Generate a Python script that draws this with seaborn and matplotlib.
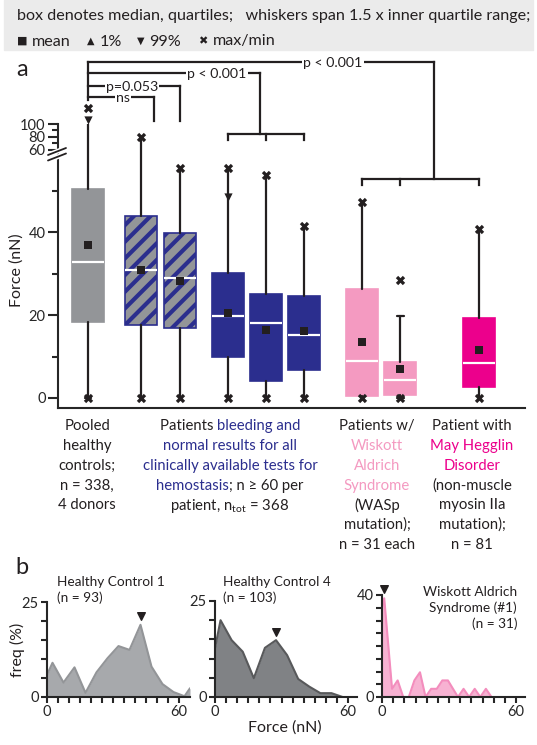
import numpy as np
import matplotlib
matplotlib.use('Agg')
import matplotlib.pyplot as plt
import matplotlib.transforms as mtransforms
from matplotlib.lines import Line2D
from matplotlib.patches import Rectangle
import seaborn as sns

# ---------------- data: panel a (force, nN) ----------------
box_median = [32.8, 30.8, 28.9, 19.9, 18.0, 15.1, 9.0, 4.3, 8.5]
box_q1 = [18.3, 17.7, 17.0, 10.0, 4.0, 6.7, 0.5, 0.7, 2.7]
box_q3 = [50.5, 43.9, 39.8, 30.1, 25.2, 24.6, 26.2, 8.7, 19.4]
box_mean = [36.9, 31.0, 28.2, 20.6, 16.5, 16.1, 13.6, 7.0, 11.6]
whisker_low = [0, 0, 0, 0, 0, 0, 0, 0, 0]
whisker_high = [106, 80, 55.5, 55.6, 53.9, 41.5, 47.3, 19.7, 40.8]
force_max = [125, 80, 55.5, 55.6, 53.9, 41.5, 47.3, 28.4, 40.8]
force_min = [0, 0, 0, 0, 0, 0, 0, 0, 0]
pct99 = [106, np.nan, np.nan, 48.5, np.nan, np.nan, np.nan, np.nan, np.nan]

# ---------------- data: panel b histograms ----------------
hc1_force = [0, 2.5, 7.5, 12.5, 17.5, 22.5, 27.5, 32.5, 37.5, 42.5, 47.5, 52.5, 57.5, 62.5, 65]
hc1_freq = [5.8, 9.0, 3.8, 7.8, 1.1, 6.5, 10.2, 13.4, 12.4, 19.0, 8.0, 3.4, 1.3, 0.2, 2.3]
hc4_force = [0, 2.5, 7.5, 12.5, 17.5, 22.5, 27.5, 32.5, 37.5, 42.5, 47.5, 52.5, 57.5]
hc4_freq = [12.7, 20.0, 14.8, 11.8, 4.9, 12.8, 14.8, 10.9, 4.7, 2.7, 1.0, 1.0, 0.0]
was_force = [0, 1, 4.5, 7, 9.5, 12, 14.5, 17, 19.5, 22, 24.5, 27, 29.5, 34, 36.5, 39, 41.5, 44, 46.5, 49]
was_freq = [35, 38.7, 3.2, 6.5, 0, 0, 6.5, 9.7, 0, 3.2, 3.2, 6.5, 6.5, 0, 3.2, 0, 3.2, 0, 3.2, 0]
marked_force = [42.5, 27.5, 1]   # arrowhead positions in the three histograms

# ---------------- style ----------------
GRAY = '#939598'
BLUE = '#2b2e8e'
PINK = '#f49ac1'
MAGENTA = '#ec008c'
INK = '#231f20'

box_face = [GRAY, GRAY, GRAY, BLUE, BLUE, BLUE, PINK, PINK, MAGENTA]
box_edge = [GRAY, BLUE, BLUE, BLUE, BLUE, BLUE, PINK, PINK, MAGENTA]
box_hatch = [None, '//', '//', None, None, None, None, None, None]
positions = [0.94, 2.6, 3.8, 5.3, 6.5, 7.7, 9.5, 10.7, 13.15]   # in box-width units

sns.set_theme(style='ticks')
plt.rcParams['font.family'] = ['Lato', 'DejaVu Sans']
plt.rcParams['mathtext.fontset'] = 'custom'
plt.rcParams['mathtext.rm'] = 'Lato'
plt.rcParams['hatch.linewidth'] = 3.0
plt.rcParams['axes.linewidth'] = 1.5
plt.rcParams['text.color'] = INK

W, H = 537, 745
fig = plt.figure(figsize=(W / 100, H / 100), dpi=100)


def px_axes(left, top, right, bottom):
    return fig.add_axes([left / W, 1 - bottom / H, (right - left) / W, (bottom - top) / H])


def fy(py):
    return 1 - py / H


# header band
fig.add_artist(Rectangle((4 / W, fy(50)), 529 / W, 50 / H, transform=fig.transFigure,
                         color='#ebebeb', zorder=0))
fig.text(17 / W, fy(16), 'box denotes median, quartiles;   whiskers span 1.5 x inner quartile range;',
         fontsize=11.6, va='center')
legend_bits = [(17, '\u25a0', 8), (32, 'mean', 11.6), (87, '\u25b2', 7), (100, '1%', 11.6),
               (137, '\u25bc', 7), (149, '99%', 11.6), (198, '\u2716', 8), (213, 'max/min', 11.6)]
for lx, s, fs in legend_bits:
    fig.text(lx / W, fy(40), s, fontsize=fs, va='center_baseline', ha='left',
             family=['DejaVu Sans'] if fs < 10 else ['Lato'])

# ---------------- panel a ----------------
BREAK, SQUEEZE = 60, 0.154


def fwd(v):
    v = np.asarray(v, float)
    return np.where(v <= BREAK, v, BREAK + (v - BREAK) * SQUEEZE)


def inv(u):
    u = np.asarray(u, float)
    return np.where(u <= BREAK, u, BREAK + (u - BREAK) / SQUEEZE)


ax = px_axes(58, 124, 525, 408)
ax.set_yscale('function', functions=(fwd, inv))

stats = []
for i in range(len(box_median)):
    stats.append(dict(med=box_median[i], q1=box_q1[i], q3=box_q3[i],
                      whislo=whisker_low[i], whishi=whisker_high[i], fliers=[]))
capw = [0.2 if wh < mx else 0.0 for wh, mx in zip(whisker_high, force_max)]
bp = ax.bxp(stats, positions=positions, widths=1.0, patch_artist=True, showfliers=False,
            capwidths=capw, manage_ticks=False,
            whiskerprops=dict(color=INK, lw=1.6),
            capprops=dict(color=INK, lw=1.6),
            medianprops=dict(color='white', lw=1.6, solid_capstyle='butt'),
            boxprops=dict(lw=1.2))
for patch, fc, ec, ht in zip(bp['boxes'], box_face, box_edge, box_hatch):
    patch.set_facecolor(fc)
    patch.set_edgecolor(ec)
    if ht:
        patch.set_hatch(ht)
for m in bp['medians']:
    m.set_zorder(4)

sns.scatterplot(x=positions, y=box_mean, marker='s', color=INK, s=30, linewidth=0, ax=ax, zorder=6)
sns.scatterplot(x=positions, y=force_max, marker='X', color=INK, s=45, linewidth=0, ax=ax,
                zorder=6, clip_on=False)
sns.scatterplot(x=positions, y=force_min, marker='X', color=INK, s=45, linewidth=0, ax=ax,
                zorder=6, clip_on=False)
sns.scatterplot(x=positions, y=pct99, marker='v', color=INK, s=35, linewidth=0, ax=ax,
                zorder=6, clip_on=False)

ax.set_xlim(0, 14.59)
ax.set_ylim(-2.43, 100)
ax.set_yticks([0, 20, 40, 60, 80, 100])
ax.set_yticks([10, 30, 50, 70, 90], minor=True)
ax.tick_params(axis='y', which='major', length=7, width=1.5, labelsize=10.5, pad=2)
ax.tick_params(axis='y', which='minor', length=4.5, width=1.5)
ax.set_xticks([])
sns.despine(ax=ax)
ax.set_ylabel('')
fig.text(17 / W, fy(270), 'Force (nN)', fontsize=11.5, rotation=90, ha='center', va='center')

# axis break marks
for dy in (0, 5.5):
    fig.add_artist(Line2D([48 / W, 66 / W], [fy(155 + dy), fy(148 + dy)],
                          transform=fig.transFigure, color='white', lw=3.5))
for dy in (0, 5.5):
    fig.add_artist(Line2D([48 / W, 66 / W], [fy(155 + dy), fy(148 + dy)],
                          transform=fig.transFigure, color=INK, lw=1.3))

fig.text(22 / W, fy(70), 'a', fontsize=17, ha='center', va='center')

# significance brackets: x in data, y in figure pixels
bt = mtransforms.blended_transform_factory(ax.transData, fig.transFigure)
slot = 467 / 14.59


def seg(x0, y0, x1, y1):
    ax.add_line(Line2D([x0, x1], [fy(y0), fy(y1)], transform=bt, color=INK, lw=1.6,
                       clip_on=False, solid_capstyle='projecting'))


def lab(x, y, s):
    ax.text(x, fy(y), s, transform=bt, ha='center', va='center_baseline', fontsize=10.2,
            clip_on=False, zorder=5,
            bbox=dict(facecolor='white', edgecolor='none', boxstyle='square,pad=0.08'))


x0 = positions[0]
seg(x0, 62, x0, 100)
# ns
xr = positions[1] + 13 / slot
seg(x0, 97, xr, 97); seg(xr, 97, xr, 121); lab(x0 + 35 / slot, 97, 'ns')
# p=0.053
xr = positions[2]
seg(x0, 86, xr, 86); seg(xr, 86, xr, 121); lab(x0 + 44 / slot, 86, 'p=0.053')
# bleeding group
xr = positions[4] - 6 / slot
seg(x0, 73, xr, 73); seg(xr, 73, xr, 134); lab(x0 + 129 / slot, 73, 'p < 0.001')
seg(positions[3], 134, positions[5], 134)
for p in positions[3:6]:
    seg(p, 134, p, 140)
# disease groups
xr = x0 + 346 / slot
seg(x0, 62, xr, 62); seg(xr, 62, xr, 179); lab(x0 + 245 / slot, 62, 'p < 0.001')
seg(positions[6], 179, positions[8], 179)
for p in positions[6:9]:
    seg(p, 179, p, 185)

# category labels (multi-colour lines)
renderer = fig.canvas.get_renderer()
CAT = 10.7


def centered_line(cx, cy, pieces):
    texts = [fig.text(0, 0, s, color=c, fontsize=CAT, ha='left', va='center_baseline')
             for s, c in pieces]
    widths = [t.get_window_extent(renderer).width for t in texts]
    x = cx - sum(widths) / 2
    for t, w in zip(texts, widths):
        t.set_position((x / W, fy(cy)))
        x += w


groups = [
    (87, [[('Pooled', INK)], [('healthy', INK)], [('controls;', INK)], [('n = 338,', INK)],
          [('4 donors', INK)]]),
    (230, [[('Patients ', INK), ('bleeding and', BLUE)], [('normal results for all', BLUE)],
           [('clinically available tests for', BLUE)],
           [('hemostasis', BLUE), ('; n \u2265 60 per', INK)],
           [('patient, n$_{\\mathrm{tot}}$ = 368', INK)]]),
    (377, [[('Patients w/', INK)], [('Wiskott', PINK)], [('Aldrich', PINK)], [('Syndrome', PINK)],
           [('(WASp', INK)], [('mutation);', INK)], [('n = 31 each', INK)]]),
    (472, [[('Patient with', INK)], [('May Hegglin', MAGENTA)], [('Disorder', MAGENTA)],
           [('(non-muscle', INK)], [('myosin IIa', INK)], [('mutation);', INK)], [('n = 81', INK)]]),
]
for cx, lines in groups:
    for k, pieces in enumerate(lines):
        centered_line(cx, 425 + 19.7 * k, pieces)

# ---------------- panel b ----------------
fig.text(22 / W, fy(568), 'b', fontsize=17, ha='center', va='center')
hist_specs = [
    (hc1_force, hc1_freq, (47, 602, 190, 697), (0, 65), 25, '#a7a9ac', '#939598'),
    (hc4_force, hc4_freq, (215, 601, 357, 697), (0, 64), 25, '#808285', '#58595b'),
    (was_force, was_freq, (382, 595, 525, 697), (0, 64), 40, '#f7b2d2', '#f38dbd'),
]
for (fx, fq, box, xl, ytop, fill_c, line_c), mk in zip(hist_specs, marked_force):
    hax = px_axes(*box)
    hax.fill_between(fx, fq, 0, color=fill_c, lw=0)
    sns.lineplot(x=fx, y=fq, color=line_c, lw=1.5, ax=hax)
    top = np.interp(mk, fx, fq)
    hax.scatter([mk], [top + ytop * 0.09], marker='v', s=30, color=INK, zorder=5, clip_on=False)
    hax.set_xlim(*xl)
    hax.set_ylim(0, ytop)
    hax.set_xticks([0, 60])
    hax.set_xticks(np.arange(5, xl[1], 5), minor=True)
    hax.set_yticks([0, ytop])
    hax.set_yticks(np.arange(5, ytop, 5), minor=True)
    hax.tick_params(which='both', length=4, width=1.5, labelsize=10.5, pad=2)
    sns.despine(ax=hax)

fig.text(57 / W, fy(590), 'Healthy Control 1\n(n = 93)', fontsize=9.8, va='center',
         linespacing=1.35, ha='left')
fig.text(223 / W, fy(590), 'Healthy Control 4\n(n = 103)', fontsize=9.8, va='center',
         linespacing=1.35, ha='left')
fig.text(517 / W, fy(608), 'Wiskott Aldrich\nSyndrome (#1)\n(n = 31)', fontsize=9.8, va='center',
         linespacing=1.35, ha='right', multialignment='right')
fig.text(17 / W, fy(650), 'freq (%)', fontsize=11.5, rotation=90, ha='center', va='center')
fig.text(285 / W, fy(728), 'Force (nN)', fontsize=11.5, ha='center', va='center')

fig.savefig('out.png', dpi=100)
